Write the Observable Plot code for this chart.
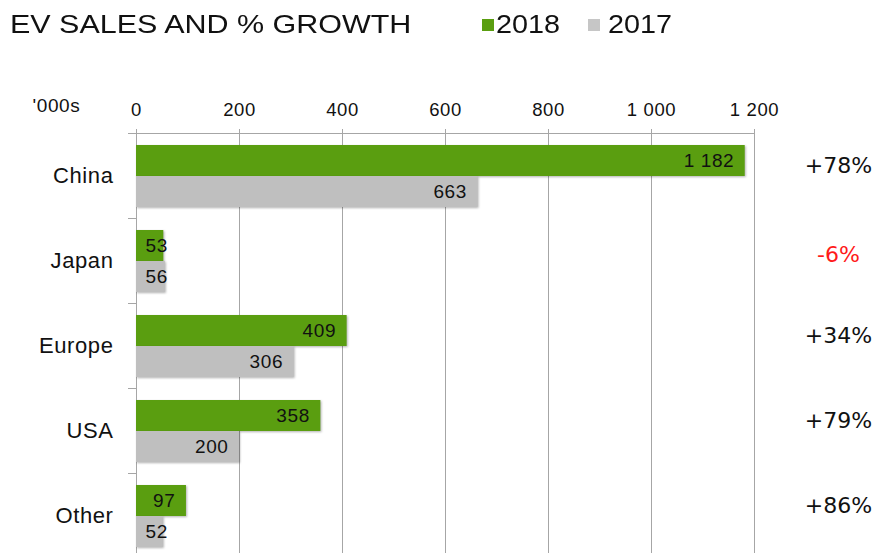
<!DOCTYPE html>
<html>
<head>
<meta charset="utf-8">
<script src="https://cdn.jsdelivr.net/npm/d3@7"></script>
<script src="https://cdn.jsdelivr.net/npm/@observablehq/plot@0.6"></script>
<style>
  html, body { margin: 0; padding: 0; background: #fff; overflow: hidden; width: 881px; height: 553px; }
  #wrap { position: relative; width: 881px; height: 553px; overflow: hidden; }
  #chart { position: absolute; left: 0; top: 0; }
  .hdr { position: absolute; font-family: "Liberation Sans", Arial, sans-serif; color: #111; white-space: nowrap;
         transform-origin: left center; transform: scaleX(1.15); }
  #title { left: 10px; top: 10.5px; font-size: 26.5px; line-height: 26.5px; }
  .sw { position: absolute; width: 12px; height: 12px; top: 19px; }
  .lg { top: 11.8px; font-size: 25px; line-height: 25px; }
</style>
</head>
<body>
<div id="wrap">
  <div id="chart"></div>
  <div id="title" class="hdr"></div>
  <div id="legend"></div>
</div>
<script>
// ---- data ----
const titleText = "EV SALES AND % GROWTH";
const unitLabel = "'000s";
const countries = ["China", "Japan", "Europe", "USA", "Other"];
const sales2018 = [1182, 53, 409, 358, 97];
const sales2017 = [663, 56, 306, 200, 52];
const growthPct = [78, -6, 34, 79, 86];
const seriesLabels = ["2018", "2017"];
const xTicks = [0, 200, 400, 600, 800, 1000, 1200];

// ---- styling ----
const green = "#5a9e10";
const gray = "#bfbfbf";
const legendColors = [green, "#c6c6c6"];
const gridColor = "#a6a6a6";

const fmt = d3.formatLocale({decimal: ".", thousands: " ", grouping: [3], currency: ["", ""]}).format(",");
const growthFmt = v => (v > 0 ? "+" : "") + v + "%";

const rows = countries.flatMap((c, i) => [
  {country: c, year: seriesLabels[0], value: sales2018[i]},
  {country: c, year: seriesLabels[1], value: sales2017[i]}
]);
const growthRows = countries.map((c, i) => ({country: c, growth: growthPct[i]}));

// header
document.getElementById("title").textContent = titleText;
const legend = document.getElementById("legend");
const swX = [482, 588], txX = [496, 608];
seriesLabels.forEach((s, i) => {
  const sw = document.createElement("div");
  sw.className = "sw"; sw.style.left = swX[i] + "px"; sw.style.background = legendColors[i];
  legend.appendChild(sw);
  const t = document.createElement("div");
  t.className = "hdr lg"; t.style.left = txX[i] + "px"; t.textContent = s;
  legend.appendChild(t);
});

const W = 881, H = 558, mL = 136, mR = 127, mT = 133, mB = 0;
const bw = (H - mT - mB) / countries.length;
const frameW = W - mL - mR;

const smallLimit = 60;
function valueLabels(year, dy) {
  return [
    Plot.text(rows, {filter: d => d.year === year && d.value >= smallLimit, x: "value", y: "country",
      text: d => fmt(d.value), textAnchor: "end", dx: -11, dy, fontSize: 19, fill: "#111"}),
    Plot.text(rows, {filter: d => d.year === year && d.value < smallLimit, x: d => 0, y: "country",
      text: d => fmt(d.value), textAnchor: "start", dx: 9, dy, fontSize: 19, fill: "#111"})
  ];
}

const chart = Plot.plot({
  width: W, height: H,
  marginLeft: mL, marginRight: mR, marginTop: mT, marginBottom: mB,
  style: {fontFamily: "Liberation Sans, Arial, sans-serif", fontSize: "19px", color: "#111", background: "transparent", letterSpacing: "0.6px"},
  x: {domain: [0, 1200], axis: null},
  y: {domain: countries, padding: 0, axis: null},
  marks: [
    Plot.gridX(xTicks, {stroke: gridColor, strokeOpacity: 1}),
    Plot.frame({anchor: "top", stroke: gridColor}),
    Plot.frame({anchor: "left", stroke: gridColor}),
    Plot.tickY(countries, {y: d => d, dy: -bw / 2, insetLeft: -8, insetRight: frameW, stroke: gridColor}),
    Plot.axisX(xTicks, {anchor: "top", tickSize: 5, tickPadding: 13, tickFormat: fmt, fontSize: 18.5, stroke: gridColor, label: null}),
    Plot.axisY({tickSize: 0, tickPadding: 23, fontSize: 22, label: null}),
    Plot.text([unitLabel], {frameAnchor: "top-left", dx: -104, dy: -35, textAnchor: "start", fontSize: 19}),
    Plot.barX(rows, {filter: d => d.year === seriesLabels[0], x: "value", y: "country", fill: green, insetTop: 12, insetBottom: 42}),
    Plot.barX(rows, {filter: d => d.year === seriesLabels[1], x: "value", y: "country", fill: gray, insetTop: 43, insetBottom: 11}),
    ...valueLabels(seriesLabels[0], -15),
    ...valueLabels(seriesLabels[1], 16),
    Plot.text(growthRows, {filter: d => d.growth >= 0, y: "country", text: d => growthFmt(d.growth),
      frameAnchor: "right", textAnchor: "middle", dx: 84, dy: -10, fontFamily: "DejaVu Sans", fontSize: 22, fill: "#111"}),
    Plot.text(growthRows, {filter: d => d.growth < 0, y: "country", text: d => growthFmt(d.growth),
      frameAnchor: "right", textAnchor: "middle", dx: 84, dy: -6, fontFamily: "DejaVu Sans", fontSize: 22, fill: "#ff1a1a"})
  ]
});

chart.querySelectorAll('g[aria-label="bar"]').forEach(g => {
  g.style.filter = "drop-shadow(1.5px 1.5px 1px rgba(0,0,0,0.3))";
});
chart.querySelectorAll('text').forEach(t => {
  if (/%$/.test(t.textContent)) t.style.letterSpacing = "0px";
});
document.getElementById("chart").appendChild(chart);
</script>
</body>
</html>
